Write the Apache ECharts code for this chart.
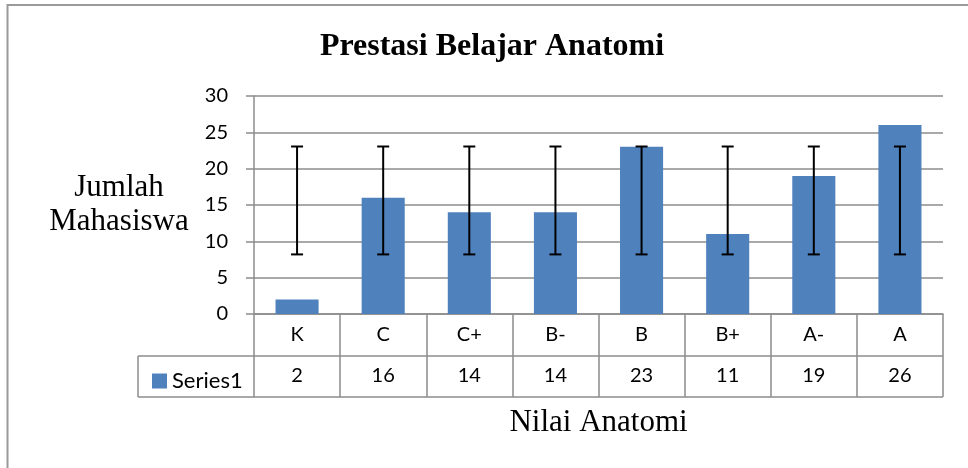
<!DOCTYPE html>
<html>
<head>
<meta charset="utf-8">
<script src="https://cdn.jsdelivr.net/npm/echarts@6/dist/echarts.min.js"></script>
<style>html,body{margin:0;padding:0;background:#fff}#c{width:968px;height:468px}</style>
</head>
<body>
<div id="c"></div>
<script>
const categories = ['K', 'C', 'C+', 'B-', 'B', 'B+', 'A-', 'A'];
const values = [2, 16, 14, 14, 23, 11, 19, 26];
const errLow = [8.2, 8.2, 8.2, 8.2, 8.2, 8.2, 8.2, 8.2];
const errHigh = [23.05, 23.05, 23.05, 23.05, 23.05, 23.05, 23.05, 23.05];
const yTicks = [0, 5, 10, 15, 20, 25, 30];
const seriesName = 'Series1';
const titleText = 'Prestasi Belajar Anatomi';
const yName = 'Jumlah\nMahasiswa';
const xName = 'Nilai Anatomi';

const GL = 254, GR = 943, GT = 96, GB = 314, ROW1 = 356, ROW2 = 397, TL = 138;
const lineCol = '#8c8c8c';
const sans = 'Lato';
const serif = 'Liberation Serif';

const chart = echarts.init(document.getElementById('c'), null, {renderer: 'canvas'});
const errData = categories.map((c, i) => [i, errLow[i], errHigh[i]]);

chart.setOption({
  animation: false,
  backgroundColor: '#fff',
  title: {
    text: titleText, left: 487, top: 26, textAlign: 'center',
    textStyle: {fontFamily: serif, fontWeight: 'bold', fontSize: 32, color: '#000'}
  },
  legend: {
    data: [seriesName], left: 147, top: 365, icon: 'rect', itemWidth: 15, itemHeight: 15, itemGap: 6,
    textStyle: {fontFamily: sans, fontSize: 22, color: '#000'}, selectedMode: false
  },
  grid: {left: GL, right: 968 - GR, top: GT, bottom: 468 - GB},
  xAxis: [{
    type: 'category', data: categories, position: 'bottom',
    axisLine: {show: true, lineStyle: {color: lineCol, width: 1.5}},
    axisTick: {show: true, length: ROW2 - GB, interval: 0, lineStyle: {color: lineCol, width: 1.5}},
    axisLabel: {interval: 0, margin: 21, verticalAlign: 'middle', fontFamily: sans, fontSize: 20, color: '#000'},
    name: xName, nameLocation: 'middle', nameGap: 109,
    nameTextStyle: {fontFamily: serif, fontSize: 31, color: '#000', verticalAlign: 'middle'}
  }, {
    type: 'category', data: categories, position: 'bottom',
    axisLine: {show: false}, axisTick: {show: false},
    axisLabel: {interval: 0, margin: 62, verticalAlign: 'middle', fontFamily: sans, fontSize: 20, color: '#000',
      formatter: (v, i) => String(values[i])}
  }],
  yAxis: {
    type: 'value', min: 0, max: 30, interval: 5,
    axisLine: {show: true, lineStyle: {color: lineCol, width: 1.5}},
    axisTick: {show: true, length: 8, lineStyle: {color: lineCol, width: 1.5}},
    splitLine: {show: true, lineStyle: {color: lineCol, width: 1.5}},
    axisLabel: {margin: 26, fontFamily: sans, fontSize: 20, color: '#000',
      formatter: v => yTicks.includes(v) ? String(v) : ''},
    name: yName, nameLocation: 'middle', nameRotate: 0, nameGap: 135,
    nameTextStyle: {fontFamily: serif, fontSize: 31, color: '#000', align: 'center', verticalAlign: 'middle',
      lineHeight: 34, padding: [6, 0, 0, 0]}
  },
  series: [{
    name: seriesName, type: 'bar', data: values, barWidth: '50%', xAxisIndex: 0,
    itemStyle: {color: '#4F81BD'}
  }, {
    type: 'custom', xAxisIndex: 0, data: errData, z: 10,
    renderItem: (params, api) => {
      const x = api.value(0);
      const lo = api.coord([x, api.value(1)]);
      const hi = api.coord([x, api.value(2)]);
      const cw = 6;
      const st = {stroke: '#000', lineWidth: 2};
      return {type: 'group', children: [
        {type: 'line', shape: {x1: lo[0], y1: lo[1], x2: hi[0], y2: hi[1]}, style: st},
        {type: 'line', shape: {x1: lo[0] - cw, y1: lo[1], x2: lo[0] + cw, y2: lo[1]}, style: st},
        {type: 'line', shape: {x1: hi[0] - cw, y1: hi[1], x2: hi[0] + cw, y2: hi[1]}, style: st}
      ]};
    }
  }],
  graphic: [
    {type: 'rect', shape: {x: 7.5, y: 5, width: 1100, height: 1000}, style: {fill: 'none', stroke: '#9a9a9a', lineWidth: 2}, silent: true},
    {type: 'line', shape: {x1: TL, y1: ROW1, x2: GR, y2: ROW1}, style: {stroke: lineCol, lineWidth: 1.5}, silent: true},
    {type: 'line', shape: {x1: TL, y1: ROW2, x2: GR, y2: ROW2}, style: {stroke: lineCol, lineWidth: 1.5}, silent: true},
    {type: 'line', shape: {x1: TL, y1: ROW1, x2: TL, y2: ROW2}, style: {stroke: lineCol, lineWidth: 1.5}, silent: true}
  ]
});
</script>
</body>
</html>
